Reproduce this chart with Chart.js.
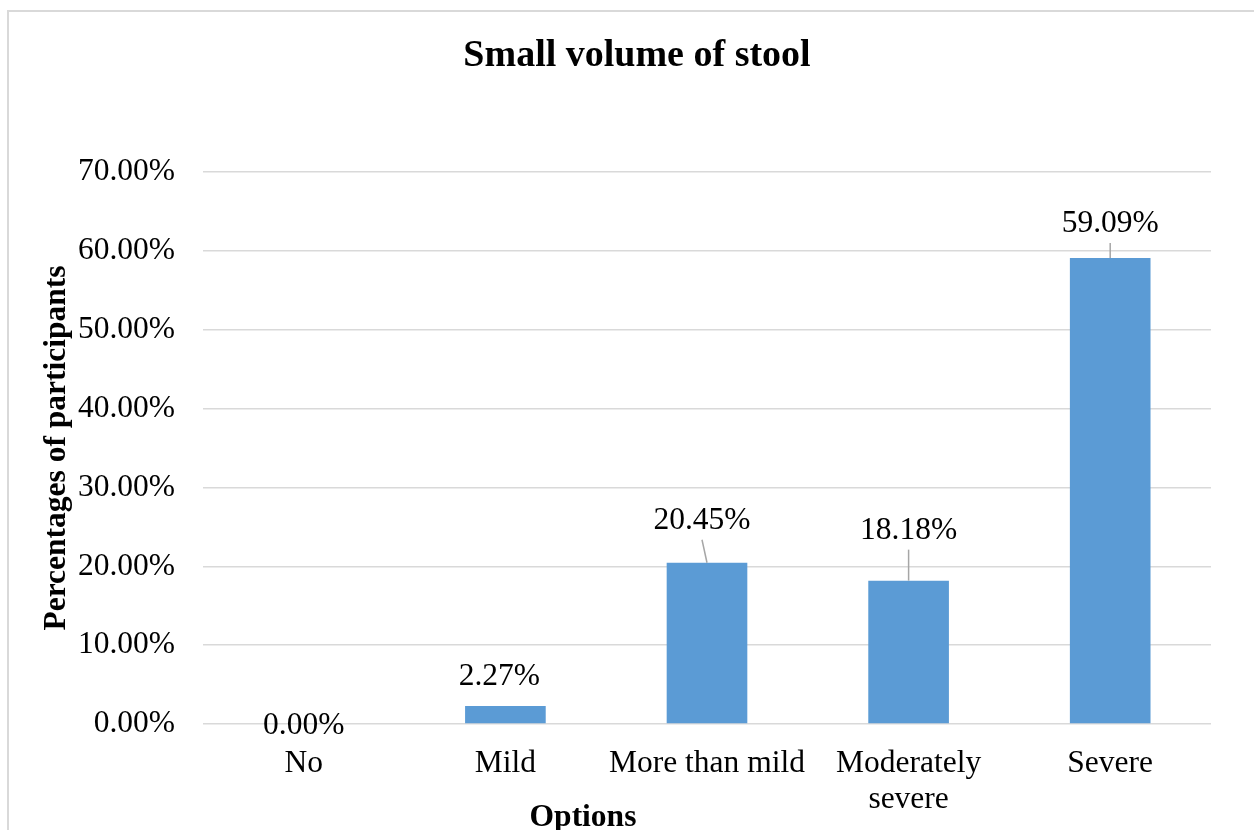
<!DOCTYPE html>
<html>
<head>
<meta charset="utf-8">
<script src="https://cdn.jsdelivr.net/npm/chart.js@4/dist/chart.umd.min.js"></script>
<style>
  html, body { margin: 0; padding: 0; background: #fff; overflow: hidden; }
  #frame {
    position: absolute; left: 7px; top: 10px;
    border-left: 2px solid #d9d9d9; border-top: 2px solid #d9d9d9;
    width: 1256px; height: 818px;
  }
  #wrap { position: relative; width: 1256px; height: 818px; }
</style>
</head>
<body>
<div id="frame"><div id="wrap"><canvas id="chart"></canvas></div></div>
<script>
// ---------- data ----------
const categories = ['No', 'Mild', 'More than mild', ['Moderately', 'severe'], 'Severe'];
const percentages = [0.00, 2.27, 20.45, 18.18, 59.09];
const yTicks = [0, 10, 20, 30, 40, 50, 60, 70];

const chartTitle = 'Small volume of stool';
const yTitle = 'Percentages of participants';
const xTitle = 'Options';

// label placement (pixels, relative to bar top centre) - as Excel left them
const labelDx = [0, -6, -5, 0, 0];
const labelDy = [2, -29, -42, -50, -34];

const FONT = "'Liberation Serif', 'Times New Roman', serif";
const BAR_COLOR = '#5B9BD5';
const GRID_COLOR = '#d9d9d9';

// ---------- plugins ----------
const barLabels = {
  id: 'barLabels',
  afterDatasetsDraw(chart) {
    const ctx = chart.ctx;
    const meta = chart.getDatasetMeta(0);
    ctx.save();
    ctx.font = '31.5px ' + FONT;
    ctx.fillStyle = '#000';
    ctx.textAlign = 'center';
    ctx.textBaseline = 'middle';
    meta.data.forEach((bar, i) => {
      const cx = bar.x + labelDx[i];
      const cy = bar.y + labelDy[i];
      if (labelDy[i] < -32) {
        ctx.strokeStyle = '#a6a6a6';
        ctx.lineWidth = 1.5;
        ctx.beginPath();
        ctx.moveTo(cx, cy + 19);
        ctx.lineTo(bar.x, bar.y);
        ctx.stroke();
      }
      ctx.fillText(percentages[i].toFixed(2) + '%', cx, cy);
    });
    ctx.restore();
  }
};

// chart title is centred on the whole frame, x title sits left of centre
const titles = {
  id: 'titles',
  afterDraw(chart) {
    const {ctx, chartArea, width} = chart;
    ctx.save();
    ctx.fillStyle = '#000';
    ctx.textAlign = 'center';
    ctx.textBaseline = 'middle';
    ctx.font = 'bold 38px ' + FONT;
    ctx.fillText(chartTitle, width / 2, 44);
    ctx.font = 'bold 31.5px ' + FONT;
    ctx.fillText(xTitle, chartArea.left + 380, chartArea.bottom + 94);
    ctx.restore();
  }
};

// ---------- chart ----------
new Chart(document.getElementById('chart'), {
  type: 'bar',
  data: {
    labels: categories,
    datasets: [{
      data: percentages,
      backgroundColor: BAR_COLOR,
      barPercentage: 0.4,
      categoryPercentage: 1
    }]
  },
  options: {
    responsive: true,
    maintainAspectRatio: false,
    animation: false,
    layout: { padding: { top: 160, right: 54, bottom: 0, left: 0 } },
    plugins: {
      legend: { display: false },
      tooltip: { enabled: false },
      title: { display: false }
    },
    scales: {
      x: {
        grid: { display: false, drawTicks: false },
        border: { display: false },
        ticks: {
          color: '#000',
          padding: 22,
          maxRotation: 0,
          autoSkip: false,
          font: { family: FONT, size: 31.5, lineHeight: 1.14 }
        },
        afterFit(scale) { scale.height = 106; }
      },
      y: {
        min: 0,
        max: 70,
        afterBuildTicks(scale) { scale.ticks = yTicks.map(v => ({ value: v })); },
        grid: { color: GRID_COLOR, lineWidth: 1.5, drawTicks: false },
        border: { display: false },
        ticks: {
          color: '#000',
          padding: 28,
          font: { family: FONT, size: 31.5 },
          callback: v => v.toFixed(2) + '%'
        },
        title: {
          display: true,
          text: yTitle,
          color: '#000',
          font: { family: FONT, size: 31.5, weight: 'bold', lineHeight: 1.2 },
          padding: { top: 29, bottom: 0 }
        },
        afterFit(scale) { scale.width = 194; }
      }
    }
  },
  plugins: [barLabels, titles]
});
</script>
</body>
</html>
